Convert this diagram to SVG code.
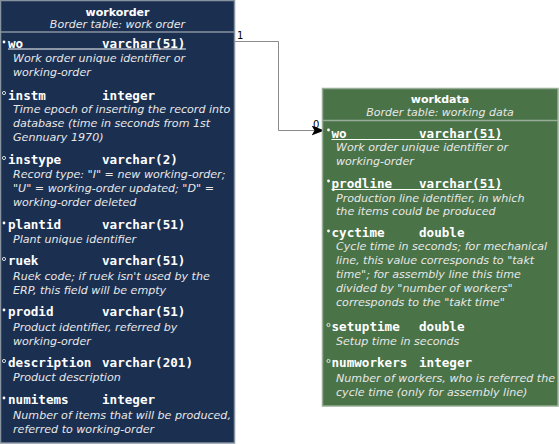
<svg xmlns="http://www.w3.org/2000/svg" width="559" height="444" viewBox="0 0 559 444">
<defs>
<style>
.title{font-family:"DejaVu Sans",sans-serif;font-weight:bold;font-size:11px;fill:#ffffff;text-anchor:middle}
.sub{font-family:"DejaVu Sans",sans-serif;font-style:italic;font-size:11px;fill:#e8e8e8;text-anchor:middle}
.fld{font-family:"DejaVu Sans Mono",monospace;font-weight:bold;font-size:12.6px;fill:#ffffff}
.desc{font-family:"DejaVu Sans",sans-serif;font-style:italic;font-size:11.1px;fill:#e8e8e8}
.lbl{font-family:"DejaVu Sans",sans-serif;font-size:10px;fill:#000000}
.nn{fill:#ffffff}
.nl{fill:none;stroke:#ffffff;stroke-width:0.8}
.ul{stroke:#ffffff;stroke-width:1}
</style>
<marker id="arr" markerWidth="14" markerHeight="10" refX="13" refY="5" orient="auto" markerUnits="userSpaceOnUse">
<path d="M0,0 L13,5 L0,10 L3,5 Z" fill="#000000"/>
</marker>
</defs>
<g id="connectors">
<text class="lbl" x="237" y="39">1</text>
<text class="lbl" x="313" y="128">0</text>
<polyline points="234.5,41.5 278.5,41.5 278.5,130.5 324.5,130.5" fill="none" stroke="#8a8a8a" stroke-width="1" marker-end="url(#arr)"/>
</g>
<g id="workorder">
<rect x="0.5" y="0.5" width="234" height="442.5" fill="#1b2f51" stroke="#8893a0" stroke-width="1.5"/>
<text class="title" x="117.5" y="16">workorder</text>
<text class="sub" x="117.5" y="28">Border table: work order</text>
<line x1="0" y1="32" x2="235" y2="32" stroke="#8893a0" stroke-width="1.5"/>
<circle class="nn" cx="4" cy="42" r="1.4"/>
<text class="fld" x="8" y="47.5">wo</text><text class="fld" x="102" y="47.5">varchar(51)</text>
<line class="ul" x1="8" y1="49" x2="186" y2="49"/>
<text class="desc" x="13" y="62">Work order unique identifier or</text>
<text class="desc" x="13" y="76">working-order</text>
<circle class="nl" cx="4" cy="93" r="1.6"/>
<text class="fld" x="8" y="99.5">instm</text><text class="fld" x="102" y="99.5">integer</text>
<text class="desc" x="13" y="113">Time epoch of inserting the record into</text>
<text class="desc" x="13" y="127">database (time in seconds from 1st</text>
<text class="desc" x="13" y="141">Gennuary 1970)</text>
<circle class="nl" cx="4" cy="158" r="1.6"/>
<text class="fld" x="8" y="164">instype</text><text class="fld" x="102" y="164">varchar(2)</text>
<text class="desc" x="13" y="178">Record type: "I" = new working-order;</text>
<text class="desc" x="13" y="192">"U" = working-order updated; "D" =</text>
<text class="desc" x="13" y="205.5">working-order deleted</text>
<circle class="nn" cx="4" cy="223" r="1.4"/>
<text class="fld" x="8" y="229">plantid</text><text class="fld" x="102" y="229">varchar(51)</text>
<text class="desc" x="13" y="243">Plant unique identifier</text>
<circle class="nl" cx="4" cy="259" r="1.6"/>
<text class="fld" x="8" y="265">ruek</text><text class="fld" x="102" y="265">varchar(51)</text>
<text class="desc" x="13" y="279.5">Ruek code; if ruek isn't used by the</text>
<text class="desc" x="13" y="293.5">ERP, this field will be empty</text>
<circle class="nn" cx="4" cy="310" r="1.4"/>
<text class="fld" x="8" y="316">prodid</text><text class="fld" x="102" y="316">varchar(51)</text>
<text class="desc" x="13" y="331">Product identifier, referred by</text>
<text class="desc" x="13" y="344.5">working-order</text>
<circle class="nl" cx="4" cy="361" r="1.6"/>
<text class="fld" x="8" y="367">description</text><text class="fld" x="102" y="367">varchar(201)</text>
<text class="desc" x="13" y="381">Product description</text>
<circle class="nn" cx="4" cy="398" r="1.4"/>
<text class="fld" x="8" y="404">numitems</text><text class="fld" x="102" y="404">integer</text>
<text class="desc" x="13" y="418.5">Number of items that will be produced,</text>
<text class="desc" x="13" y="432.5">referred to working-order</text>
</g>
<g id="workdata">
<rect x="322.5" y="88.5" width="235.5" height="317.5" fill="#4a7348" stroke="#98ad96" stroke-width="1.5"/>
<text class="title" x="440" y="103">workdata</text>
<text class="sub" x="440" y="116">Border table: working data</text>
<line x1="322" y1="120.5" x2="558" y2="120.5" stroke="#98ad96" stroke-width="1.5"/>
<circle class="nn" cx="328.5" cy="130" r="1.4"/>
<text class="fld" x="331.5" y="137.5">wo</text><text class="fld" x="419" y="137.5">varchar(51)</text>
<line class="ul" x1="331.5" y1="139.5" x2="502" y2="139.5"/>
<text class="desc" x="336" y="151">Work order unique identifier or</text>
<text class="desc" x="336" y="164.5">working-order</text>
<circle class="nn" cx="328.5" cy="181" r="1.4"/>
<text class="fld" x="331.5" y="187.5">prodline</text><text class="fld" x="419" y="187.5">varchar(51)</text>
<line class="ul" x1="331.5" y1="189.5" x2="502" y2="189.5"/>
<text class="desc" x="336" y="201.5">Production line identifier, in which</text>
<text class="desc" x="336" y="215">the items could be produced</text>
<circle class="nn" cx="328.5" cy="231" r="1.4"/>
<text class="fld" x="331.5" y="237">cyctime</text><text class="fld" x="419" y="237">double</text>
<text class="desc" x="336" y="250">Cycle time in seconds; for mechanical</text>
<text class="desc" x="336" y="264">line, this value corresponds to "takt</text>
<text class="desc" x="336" y="278">time"; for assembly line this time</text>
<text class="desc" x="336" y="291.5">divided by "number of workers"</text>
<text class="desc" x="336" y="305.5">corresponds to the "takt time"</text>
<circle class="nl" cx="328.5" cy="325" r="1.6"/>
<text class="fld" x="331.5" y="331">setuptime</text><text class="fld" x="419" y="331">double</text>
<text class="desc" x="336" y="345">Setup time in seconds</text>
<circle class="nl" cx="328.5" cy="361" r="1.6"/>
<text class="fld" x="331.5" y="367">numworkers</text><text class="fld" x="419" y="367">integer</text>
<text class="desc" x="336" y="382">Number of workers, who is referred the</text>
<text class="desc" x="336" y="396">cycle time (only for assembly line)</text>
</g>
</svg>
